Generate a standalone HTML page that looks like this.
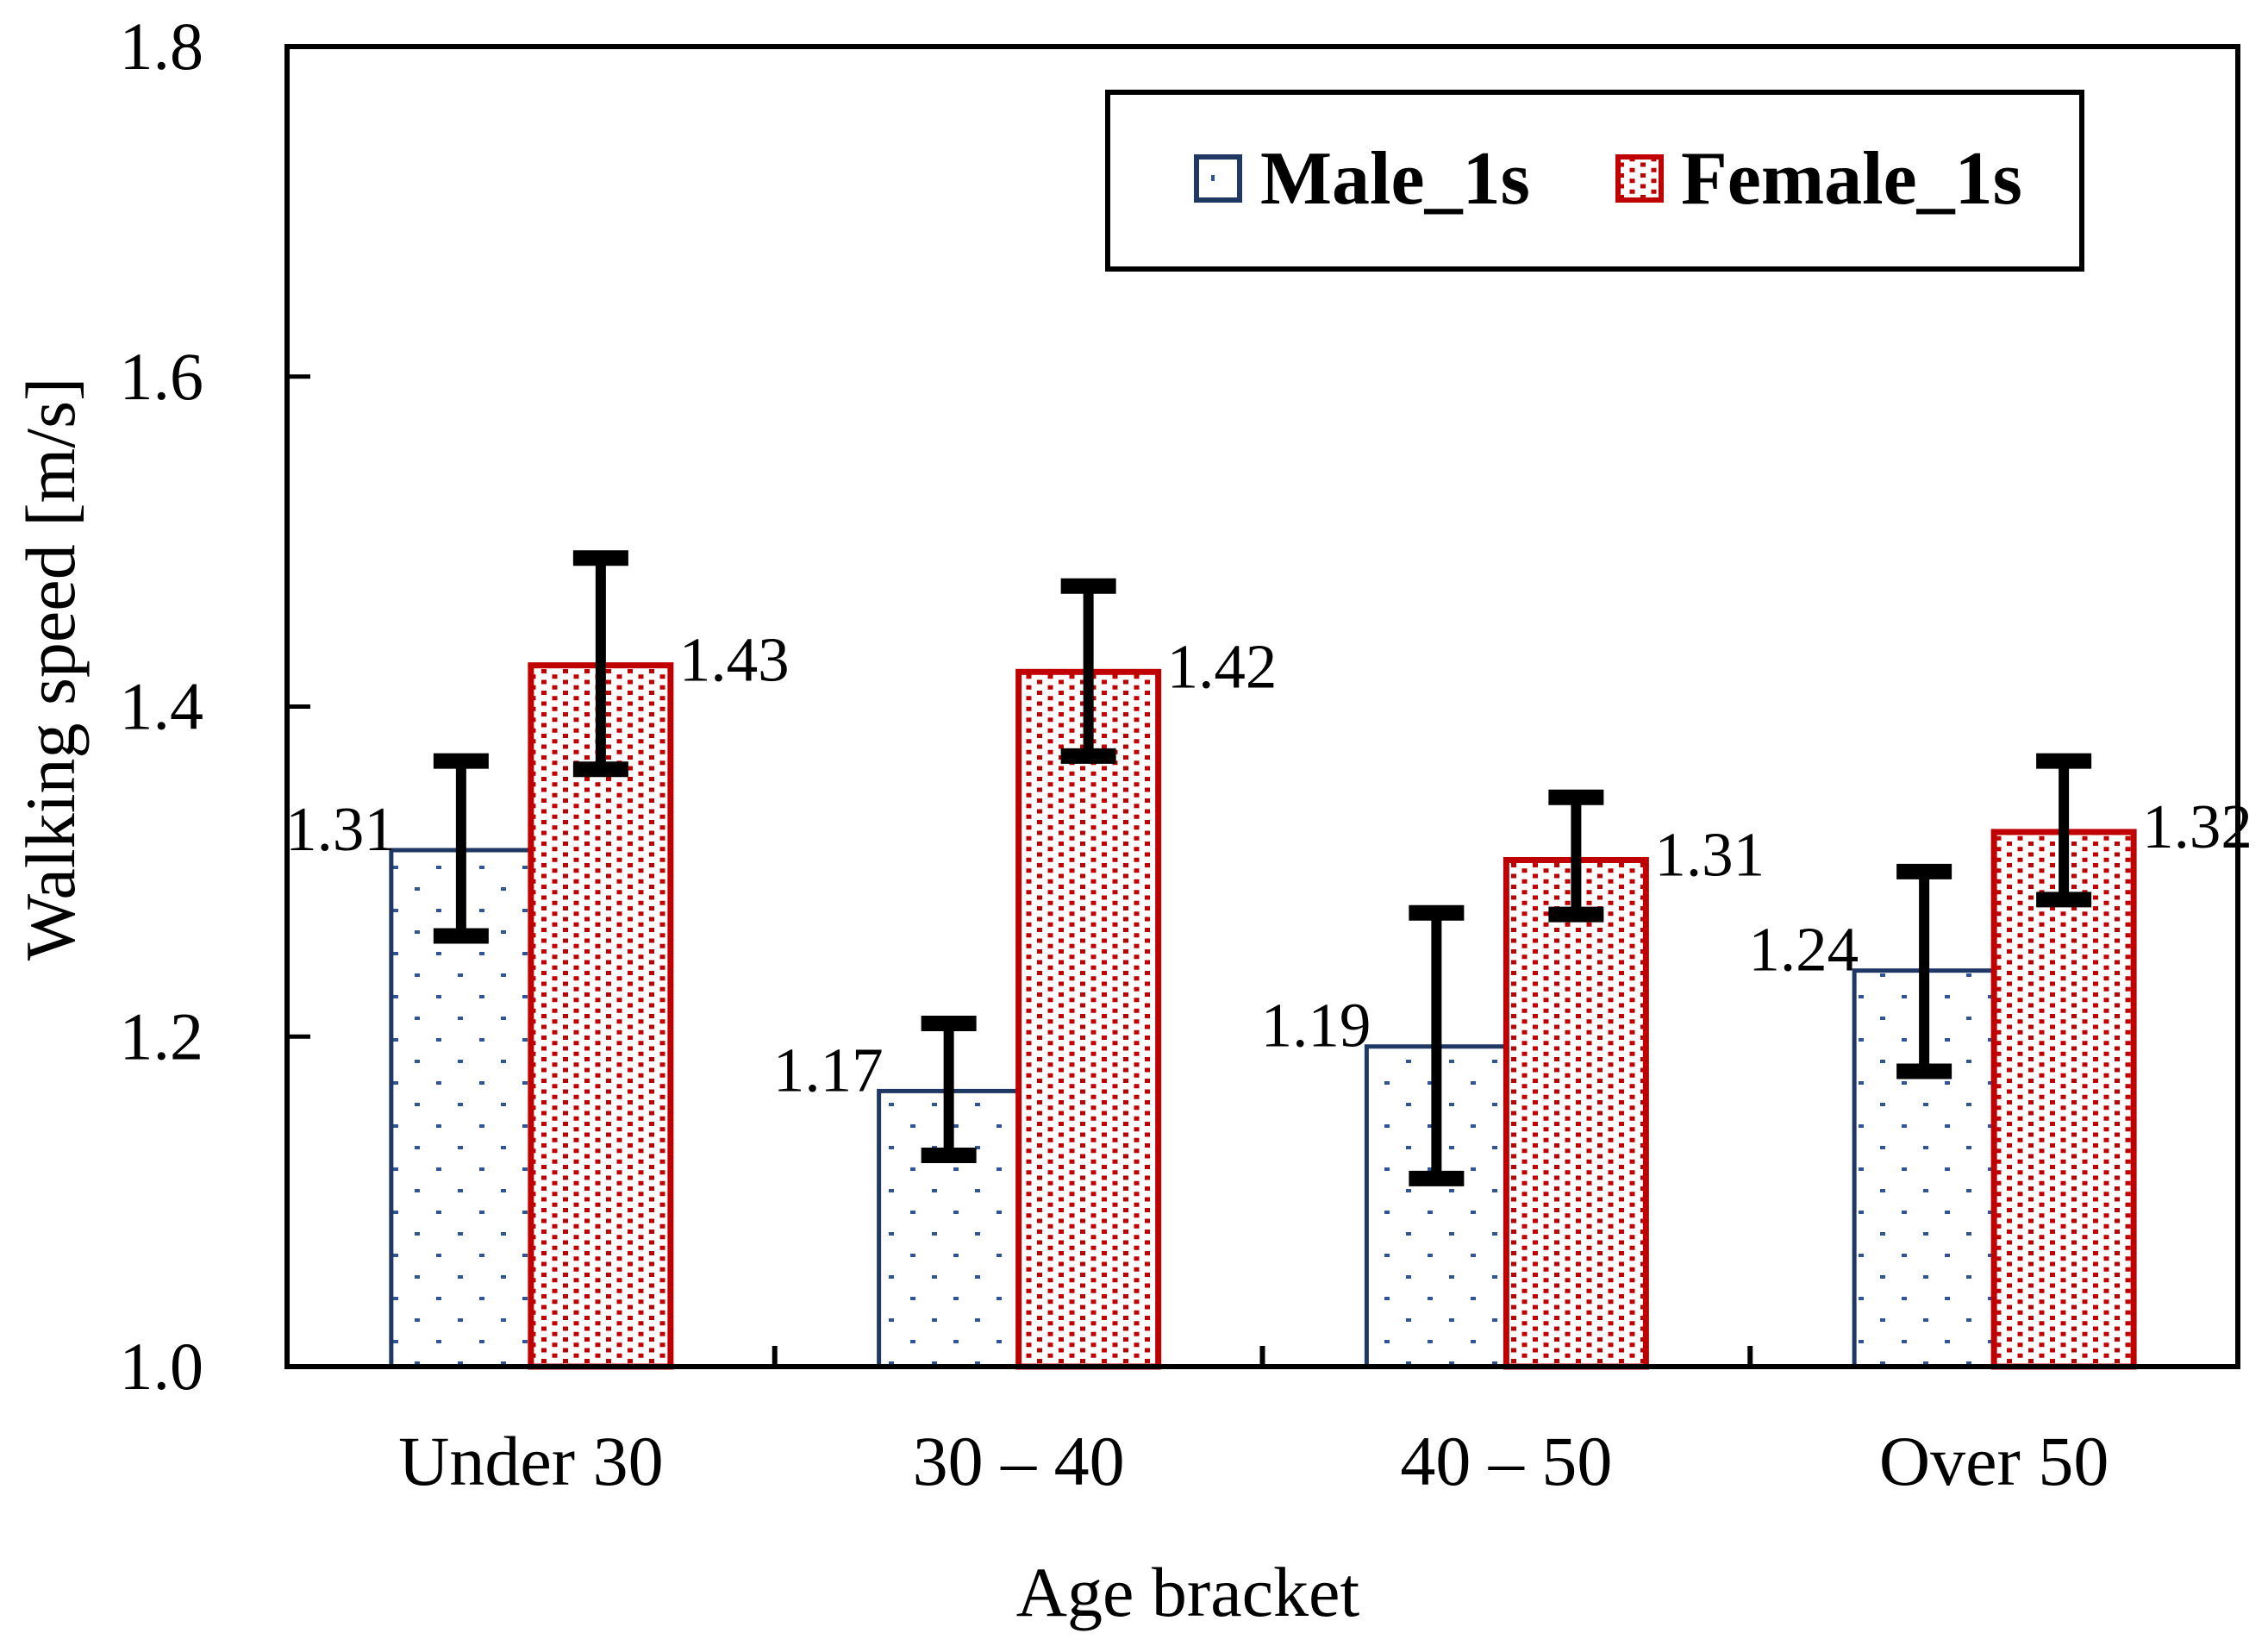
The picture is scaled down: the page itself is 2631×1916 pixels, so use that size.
<!DOCTYPE html>
<html><head><meta charset="utf-8">
<style>
html,body{margin:0;padding:0;background:#fff;}
svg{display:block;font-family:"Liberation Serif",serif;}
</style></head>
<body>
<svg id="chart" width="2631" height="1916" viewBox="0 0 2631 1916" xmlns="http://www.w3.org/2000/svg">
<defs>
<pattern id="malePat" patternUnits="userSpaceOnUse" width="50" height="50">
<rect x="0" y="0" width="50" height="50" fill="#fff"/>
<rect x="6" y="4" width="6" height="4" fill="#2f5597"/>
<rect x="31" y="29" width="6" height="4" fill="#2f5597"/>
</pattern>
<pattern id="femalePat" patternUnits="userSpaceOnUse" width="25" height="12.5">
<rect x="0" y="0" width="25" height="12.5" fill="#fff"/>
<rect x="3" y="1" width="6" height="5" fill="#c00000"/>
<rect x="15.5" y="7.25" width="6" height="5" fill="#c00000"/>
</pattern>
</defs>
<g id="plot"></g>
</svg>
<script>
const categories = ["Under 30", "30 \u2013 40", "40 \u2013 50", "Over 50"];
const maleValues = [1.313, 1.167, 1.194, 1.240];
const femaleValues = [1.425, 1.421, 1.307, 1.324];
const maleLabels = ["1.31", "1.17", "1.19", "1.24"];
const femaleLabels = ["1.43", "1.42", "1.31", "1.32"];
const maleErrLow = [1.261, 1.128, 1.114, 1.179];
const maleErrHigh = [1.367, 1.208, 1.275, 1.300];
const femaleErrLow = [1.362, 1.370, 1.274, 1.283];
const femaleErrHigh = [1.490, 1.473, 1.345, 1.367];
const yTicks = [1.0, 1.2, 1.4, 1.6, 1.8];
const yTickLabels = ["1.0", "1.2", "1.4", "1.6", "1.8"];

const NS = "http://www.w3.org/2000/svg";
const L = 333, R = 2596, T = 54, B = 1585;
const yMin = 1.0, yMax = 1.8;
const catW = (R - L) / categories.length;
const barW = 162;
function y(v){ return B - (v - yMin) / (yMax - yMin) * (B - T); }
function xCenter(i){ return L + catW * (i + 0.5); }
const g = document.getElementById("plot");
function mk(tag, attrs){
  const e = document.createElementNS(NS, tag);
  for (const k in attrs) e.setAttribute(k, attrs[k]);
  g.appendChild(e);
  return e;
}
function txt(s, attrs){ const e = mk("text", attrs); e.textContent = s; return e; }

categories.forEach((c, i) => {
  const cx = xCenter(i);
  const mt = y(maleValues[i]);
  const m = mk("rect", {x: cx - barW, y: mt, width: barW, height: B - mt, fill: "url(#malePat)", stroke: "#1f3864", "stroke-width": 5});
  
  
  const ft = y(femaleValues[i]);
  const f = mk("rect", {x: cx, y: ft, width: barW, height: B - ft, fill: "url(#femalePat)", stroke: "#c00000", "stroke-width": 7});
  
  
});

function errBar(cx, lo, hi, name){
  const grp = document.createElementNS(NS, "g");
  
  
  g.appendChild(grp);
  const add = (tag, a) => { const e = document.createElementNS(NS, tag); for (const k in a) e.setAttribute(k, a[k]); grp.appendChild(e); };
  add("line", {x1: cx, x2: cx, y1: y(hi), y2: y(lo), stroke: "#000", "stroke-width": 12});
  add("line", {x1: cx - 32, x2: cx + 32, y1: y(hi), y2: y(hi), stroke: "#000", "stroke-width": 18});
  add("line", {x1: cx - 32, x2: cx + 32, y1: y(lo), y2: y(lo), stroke: "#000", "stroke-width": 18});
}
categories.forEach((c, i) => {
  const cx = xCenter(i);
  errBar(cx - barW / 2, maleErrLow[i], maleErrHigh[i], 'error-bar-male-' + i);
  errBar(cx + barW / 2, femaleErrLow[i], femaleErrHigh[i], 'error-bar-female-' + i);
});

categories.forEach((c, i) => {
  const cx = xCenter(i);
  const ml = txt(maleLabels[i], {x: cx - barW + 5, y: y(maleValues[i]) + 0, "font-size": 73, "text-anchor": "end", fill: "#000"});
  
  
  const fl = txt(femaleLabels[i], {x: cx + barW + 10, y: y(femaleValues[i]) + 18, "font-size": 73, "text-anchor": "start", fill: "#000"});
  
  
});

const frame = mk("rect", {x: L, y: T, width: R - L, height: B - T, fill: "none", stroke: "#000", "stroke-width": 6});



yTicks.forEach((v, i) => {
  const t = mk("line", {x1: L, x2: L + 27, y1: y(v), y2: y(v), stroke: "#000", "stroke-width": 5});
  
  
  const lb = txt(yTickLabels[i], {x: 236, y: y(v) + 26, "font-size": 78, "text-anchor": "end", fill: "#000"});
  
  
});
categories.forEach((c, i) => {
  if (i > 0) {
    const xs = L + catW * i;
    const t = mk("line", {x1: xs, x2: xs, y1: B, y2: B - 24, stroke: "#000", "stroke-width": 6});
    
    
  }
  const lb = txt(c, {x: xCenter(i), y: 1722, "font-size": 82, "text-anchor": "middle", fill: "#000"});
  
  
});

const xt = txt("Age bracket", {x: 1378, y: 1874, "font-size": 82, "text-anchor": "middle", fill: "#000"});


const yt = txt("Walking speed [m/s]", {x: 0, y: 0, "font-size": 82, "text-anchor": "middle", fill: "#000", transform: "translate(86,776) rotate(-90)"});



const lg = mk("rect", {x: 1285, y: 107, width: 1130, height: 205, fill: "#fff", stroke: "#000", "stroke-width": 6});


const ms = mk("rect", {x: 1388, y: 182, width: 50, height: 50, fill: "#fff", stroke: "#1f3864", "stroke-width": 6});


const md = mk("rect", {x: 1405, y: 203, width: 4, height: 7, fill: "#2f5597"});


const fs = mk("rect", {x: 1877, y: 182, width: 50, height: 50, fill: "url(#femalePat)", stroke: "#c00000", "stroke-width": 6});


const mt = txt("Male_1s", {x: 1462, y: 236, "font-size": 88, "font-weight": "bold", fill: "#000"});


const ft = txt("Female_1s", {x: 1950, y: 236, "font-size": 88, "font-weight": "bold", fill: "#000"});


</script>
</body></html>
